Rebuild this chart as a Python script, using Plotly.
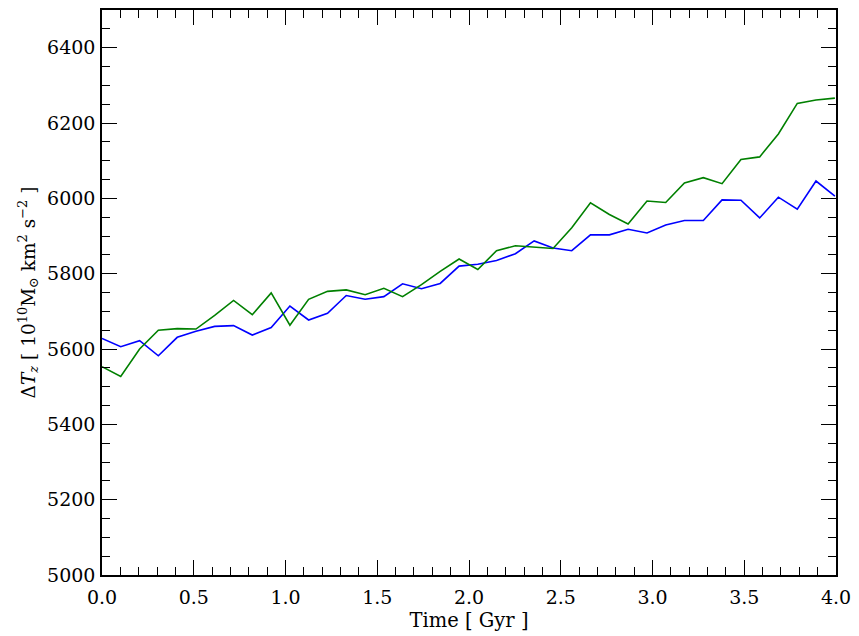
import plotly.graph_objects as go

# Snapshot times (Gyr)
time_gyr = [0.0, 0.102, 0.205, 0.307, 0.410, 0.512, 0.614, 0.717, 0.819, 0.922,
            1.024, 1.126, 1.229, 1.331, 1.434, 1.536, 1.638, 1.741, 1.843, 1.946,
            2.048, 2.150, 2.253, 2.355, 2.458, 2.560, 2.662, 2.765, 2.867, 2.970,
            3.072, 3.174, 3.277, 3.379, 3.482, 3.584, 3.686, 3.789, 3.891, 3.994]

# Delta T_z, blue run
dtz_blue = [5628, 5606, 5622, 5582, 5631, 5647, 5660, 5662, 5637, 5657,
            5714, 5677, 5695, 5742, 5732, 5739, 5773, 5760, 5774, 5820,
            5825, 5835, 5853, 5887, 5868, 5861, 5903, 5903, 5918, 5908,
            5929, 5941, 5941, 5996, 5995, 5948, 6003, 5971, 6046, 6006]

# Delta T_z, green run
dtz_green = [5553, 5527, 5600, 5650, 5654, 5653, 5689, 5729, 5691, 5749,
             5663, 5732, 5753, 5757, 5744, 5761, 5739, 5771, 5806, 5839,
             5811, 5861, 5874, 5871, 5867, 5922, 5988, 5957, 5932, 5993,
             5989, 6041, 6055, 6039, 6103, 6110, 6171, 6252, 6261, 6266]

x_ticks = [0.0, 0.5, 1.0, 1.5, 2.0, 2.5, 3.0, 3.5, 4.0]
y_ticks = [5000, 5200, 5400, 5600, 5800, 6000, 6200, 6400]

FONT = "DejaVu Serif"

fig = go.Figure()
fig.add_trace(go.Scatter(x=time_gyr, y=dtz_blue, mode="lines",
                         line=dict(color="#0000ff", width=1.6), showlegend=False))
fig.add_trace(go.Scatter(x=time_gyr, y=dtz_green, mode="lines",
                         line=dict(color="#008000", width=1.6), showlegend=False))

axis_common = dict(
    showline=True, linecolor="black", linewidth=1.5, mirror="allticks",
    ticks="inside", ticklen=15, tickwidth=1.2, tickcolor="black",
    showgrid=False, zeroline=False,
    tickfont=dict(family=FONT, size=19, color="black"),
)

fig.update_xaxes(
    range=[0, 4], tickvals=x_ticks, ticktext=[f"{v:.1f}" for v in x_ticks],
    ticklabelstandoff=4,
    minor=dict(ticks="inside", ticklen=8, tickwidth=1.0, tickcolor="black", dtick=0.1, tick0=0),
    title=dict(text="Time [ Gyr ]", font=dict(family=FONT, size=19.5, color="black"), standoff=7),
    **axis_common,
)
fig.update_yaxes(
    range=[5000, 6500], tickvals=y_ticks, ticktext=[str(v) for v in y_ticks],
    ticklabelstandoff=1,
    minor=dict(ticks="inside", ticklen=8, tickwidth=1.0, tickcolor="black", dtick=50, tick0=5000),
    title=dict(text="Δ<i>T</i><sub><i>z</i></sub> [ 10<sup>10</sup>M<sub>⊙</sub> km<sup>2</sup> s<sup>−2</sup> ]",
               font=dict(family=FONT, size=18.5, color="black"), standoff=7),
    **axis_common,
)

fig.update_layout(
    width=859, height=636,
    margin=dict(l=102, r=20, t=8, b=58),
    paper_bgcolor="white", plot_bgcolor="white",
)

fig.write_html("out.html")
